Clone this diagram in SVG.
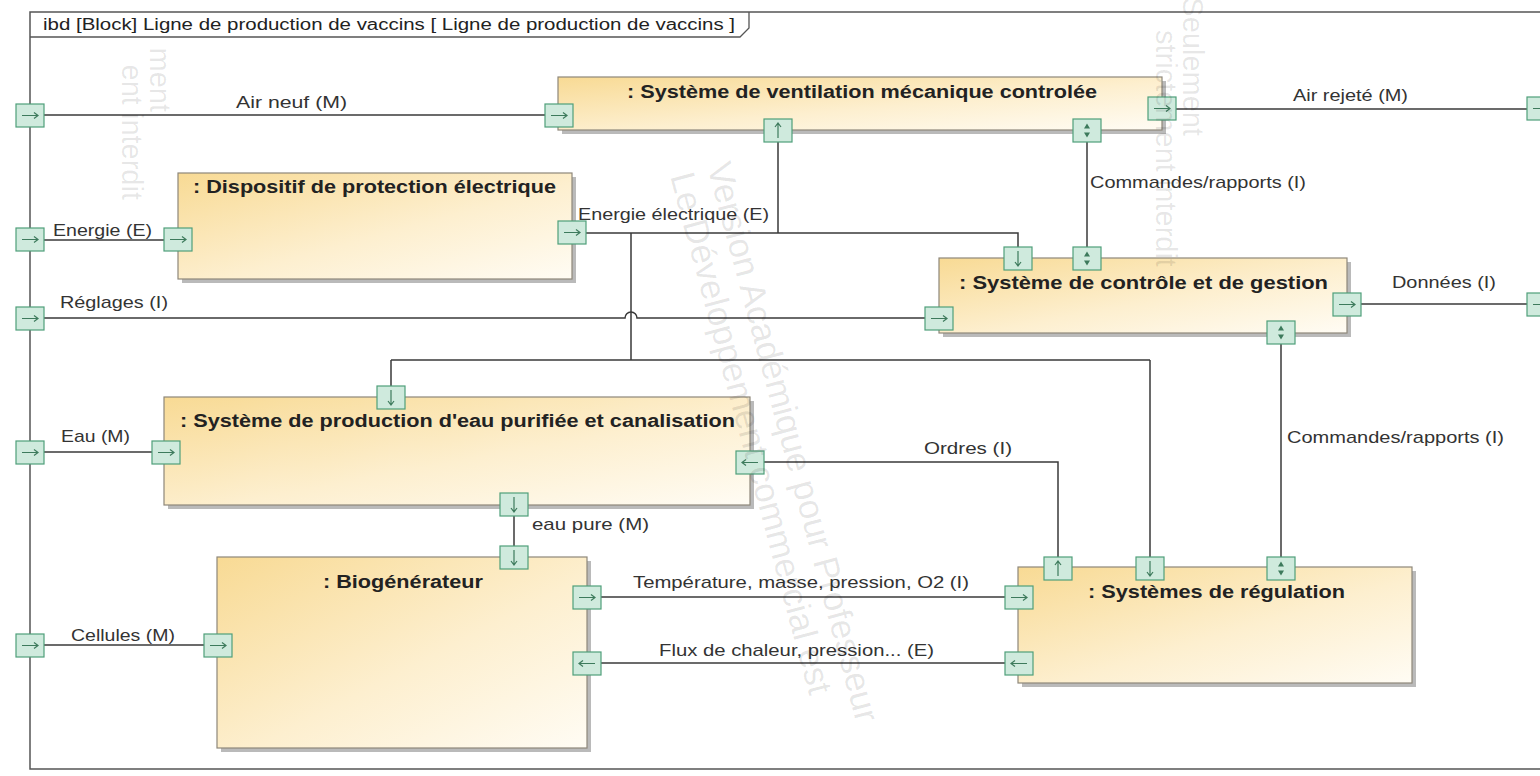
<svg xmlns="http://www.w3.org/2000/svg" xmlns:xlink="http://www.w3.org/1999/xlink" width="1540" height="776" viewBox="0 0 1540 776">
<defs>
<linearGradient id="gBlk" x1="0" y1="0" x2="1" y2="1">
<stop offset="0" stop-color="#f8da94"/>
<stop offset="0.55" stop-color="#fdefcf"/>
<stop offset="1" stop-color="#fffcf4"/>
</linearGradient>
<style>
.conn{fill:none;stroke:#3a3a3a;stroke-width:1.5}
.lbl{font-family:"Liberation Sans",Arial,sans-serif;font-size:17px;fill:#333}
.ttl{font-family:"Liberation Sans",Arial,sans-serif;font-size:18px;font-weight:bold;fill:#222}
.hdr{font-family:"Liberation Sans",Arial,sans-serif;font-size:16px;fill:#222}
.blk{fill:url(#gBlk);stroke:#8e877a;stroke-width:1.2}
.shd{fill:#a3a3a3;opacity:0.75}
.prt{fill:#cfeadd;stroke:#4f9f7a;stroke-width:1.2}
.arr{stroke:#3d7a5c;stroke-width:1.2;fill:none}
.arf{fill:#3d7a5c}
.wm{font-family:"Liberation Sans",Arial,sans-serif;font-size:29px;fill:#000;fill-opacity:0.1}
.wmc{font-size:35px}
</style>
<g id="pR"><rect class="prt" x="0" y="0" width="28" height="23"/><path class="arr" d="M6,11.5 H22 M18,8.5 L22,11.5 L18,14.5"/></g>
<g id="pL"><rect class="prt" x="0" y="0" width="28" height="23"/><path class="arr" d="M22,11.5 H6 M10,8.5 L6,11.5 L10,14.5"/></g>
<g id="pU"><rect class="prt" x="0" y="0" width="28" height="23"/><path class="arr" d="M14,19 V4 M11,8 L14,4 L17,8"/></g>
<g id="pD"><rect class="prt" x="0" y="0" width="28" height="23"/><path class="arr" d="M14,4 V19 M11,15 L14,19 L17,15"/></g>
<g id="pUD"><rect class="prt" x="0" y="0" width="28" height="23"/><path class="arf" d="M11,9.5 L14,4.5 L17,9.5 Z M11,13.5 L14,18.5 L17,13.5 Z"/></g>
</defs>
<rect x="0" y="0" width="1540" height="776" fill="#ffffff"/>

<g id="frame">
<rect x="30" y="12" width="1512" height="757" fill="none" stroke="#555" stroke-width="1.5"/>
<path d="M30,37 H740 L749,28 V12" fill="none" stroke="#555" stroke-width="1.3"/>
<text class="hdr" x="43" y="30" textLength="692" lengthAdjust="spacingAndGlyphs">ibd [Block] Ligne de production de vaccins [ Ligne de production de vaccins ]</text>
</g>

<g id="connectors">
<path class="conn" d="M44,115 H545"/>
<path class="conn" d="M1176,109 H1527"/>
<path class="conn" d="M44,240 H164"/>
<path class="conn" d="M586,233 H1018 V247 M778,142 V233 M631,233 V360 M391,360 H1150 M391,360 V386 M1150,360 V557"/>
<path class="conn" d="M44,318 H625 A6,6 0 0 1 637,318 H925"/>
<path class="conn" d="M1087,142 V247"/>
<path class="conn" d="M1361,304 H1527"/>
<path class="conn" d="M1281,344 V557"/>
<path class="conn" d="M44,452 H152"/>
<path class="conn" d="M764,462 H1058 V557"/>
<path class="conn" d="M514,516 V546"/>
<path class="conn" d="M44,645 H204"/>
<path class="conn" d="M601,597 H1005"/>
<path class="conn" d="M601,663 H1005"/>
<text class="lbl" x="236" y="108" textLength="111" lengthAdjust="spacingAndGlyphs">Air neuf (M)</text>
<text class="lbl" x="1293" y="101" textLength="115" lengthAdjust="spacingAndGlyphs">Air rejeté (M)</text>
<text class="lbl" x="53" y="236" textLength="99" lengthAdjust="spacingAndGlyphs">Energie (E)</text>
<text class="lbl" x="578" y="220" textLength="191" lengthAdjust="spacingAndGlyphs">Energie électrique (E)</text>
<text class="lbl" x="60" y="308" textLength="108" lengthAdjust="spacingAndGlyphs">Réglages (I)</text>
<text class="lbl" x="1090" y="188" textLength="216" lengthAdjust="spacingAndGlyphs">Commandes/rapports (I)</text>
<text class="lbl" x="1392" y="288" textLength="104" lengthAdjust="spacingAndGlyphs">Données (I)</text>
<text class="lbl" x="61" y="442" textLength="69" lengthAdjust="spacingAndGlyphs">Eau (M)</text>
<text class="lbl" x="924" y="454" textLength="88" lengthAdjust="spacingAndGlyphs">Ordres (I)</text>
<text class="lbl" x="1287" y="443" textLength="217" lengthAdjust="spacingAndGlyphs">Commandes/rapports (I)</text>
<text class="lbl" x="532" y="530" textLength="117" lengthAdjust="spacingAndGlyphs">eau pure (M)</text>
<text class="lbl" x="71" y="641" textLength="104" lengthAdjust="spacingAndGlyphs">Cellules (M)</text>
<text class="lbl" x="633" y="588" textLength="336" lengthAdjust="spacingAndGlyphs">Température, masse, pression, O2 (I)</text>
<text class="lbl" x="659" y="656" textLength="275" lengthAdjust="spacingAndGlyphs">Flux de chaleur, pression... (E)</text>
</g>

<g id="boundary-ports">
<use xlink:href="#pR" x="16" y="104"/>
<use xlink:href="#pR" x="16" y="228"/>
<use xlink:href="#pR" x="16" y="307"/>
<use xlink:href="#pR" x="16" y="441"/>
<use xlink:href="#pR" x="16" y="634"/>
<use xlink:href="#pR" x="1527" y="97"/>
<use xlink:href="#pR" x="1527" y="293"/>
</g>

<g id="node-ventilation">
<rect class="shd" x="562" y="81" width="604" height="53"/>
<rect class="blk" x="558" y="77" width="604" height="53"/>
<text class="ttl" x="627" y="98" textLength="470" lengthAdjust="spacingAndGlyphs">: Système de ventilation mécanique controlée</text>
<use xlink:href="#pR" x="545" y="104"/>
<use xlink:href="#pU" x="764" y="119"/>
<use xlink:href="#pUD" x="1073" y="119"/>
<use xlink:href="#pR" x="1148" y="97"/>
</g>

<g id="node-protection">
<rect class="shd" x="182" y="177" width="394" height="106"/>
<rect class="blk" x="178" y="173" width="394" height="106"/>
<text class="ttl" x="193" y="193" textLength="363" lengthAdjust="spacingAndGlyphs">: Dispositif de protection électrique</text>
<use xlink:href="#pR" x="164" y="228"/>
<use xlink:href="#pR" x="558" y="221"/>
</g>

<g id="node-controle">
<rect class="shd" x="943" y="262" width="408" height="75"/>
<rect class="blk" x="939" y="258" width="408" height="75"/>
<text class="ttl" x="959" y="289" textLength="369" lengthAdjust="spacingAndGlyphs">: Système de contrôle et de gestion</text>
<use xlink:href="#pD" x="1004" y="247"/>
<use xlink:href="#pUD" x="1073" y="247"/>
<use xlink:href="#pR" x="925" y="307"/>
<use xlink:href="#pR" x="1333" y="293"/>
<use xlink:href="#pUD" x="1267" y="321"/>
</g>

<g id="node-eau">
<rect class="shd" x="168" y="401" width="586" height="108"/>
<rect class="blk" x="164" y="397" width="586" height="108"/>
<text class="ttl" x="180" y="427" textLength="555" lengthAdjust="spacingAndGlyphs">: Système de production d'eau purifiée et canalisation</text>
<use xlink:href="#pD" x="377" y="386"/>
<use xlink:href="#pR" x="152" y="441"/>
<use xlink:href="#pL" x="736" y="451"/>
<use xlink:href="#pD" x="500" y="493"/>
</g>

<g id="node-biogenerateur">
<rect class="shd" x="221" y="561" width="370" height="191"/>
<rect class="blk" x="217" y="557" width="370" height="191"/>
<text class="ttl" x="323" y="588" textLength="160" lengthAdjust="spacingAndGlyphs">: Biogénérateur</text>
<use xlink:href="#pD" x="500" y="546"/>
<use xlink:href="#pR" x="204" y="634"/>
<use xlink:href="#pR" x="573" y="586"/>
<use xlink:href="#pL" x="573" y="652"/>
</g>

<g id="node-regulation">
<rect class="shd" x="1022" y="571" width="394" height="116"/>
<rect class="blk" x="1018" y="567" width="394" height="116"/>
<text class="ttl" x="1088" y="598" textLength="257" lengthAdjust="spacingAndGlyphs">: Systèmes de régulation</text>
<use xlink:href="#pU" x="1044" y="557"/>
<use xlink:href="#pD" x="1136" y="557"/>
<use xlink:href="#pUD" x="1267" y="557"/>
<use xlink:href="#pR" x="1005" y="586"/>
<use xlink:href="#pL" x="1005" y="652"/>
</g>

<g id="watermark" class="wm">
<text transform="translate(150,112) rotate(90)" text-anchor="end">ment</text>
<text transform="translate(122,200) rotate(90)" text-anchor="end">ent interdit</text>
<text transform="translate(1183,136) rotate(90)" text-anchor="end">Seulement</text>
<text transform="translate(1156,30) rotate(90)">strictement interdit</text>
<text class="wmc" transform="translate(707,166) rotate(75)">Version Académique pour Professeur</text>
<text class="wmc" transform="translate(670,176) rotate(75)">Le Développement commercial est</text>
</g>
</svg>
